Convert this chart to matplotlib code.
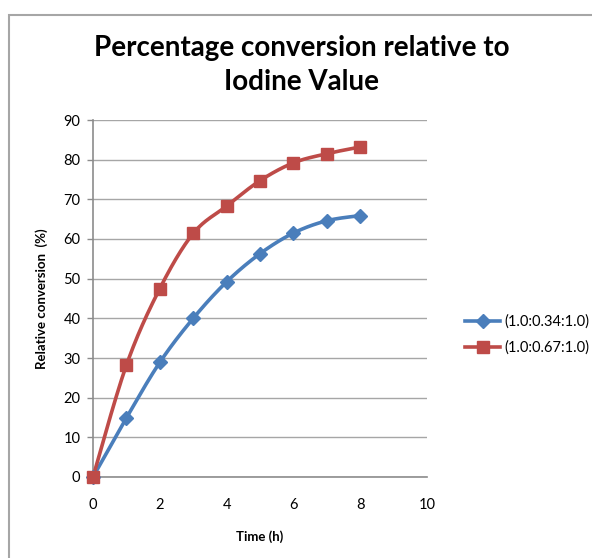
"""Percentage conversion relative to iodine value, two molar ratios."""

import matplotlib.pyplot as plt
import numpy as np
from matplotlib.lines import Line2D
from matplotlib.patches import Rectangle

plt.rcParams["font.family"] = ["Lato", "DejaVu Sans"]

# ── Data ─────────────────────────────────────────────────────────────────────

time_h = [0, 1, 2, 3, 4, 5, 6, 7, 8]
conv_034 = [0, 14.9, 28.9, 40.0, 49.2, 56.3, 61.5, 64.6, 65.9]
conv_067 = [0, 28.2, 47.5, 61.4, 68.3, 74.7, 79.2, 81.5, 83.2]
series_labels = ["(1.0:0.34:1.0)", "(1.0:0.67:1.0)"]

BLUE = "#4A7EBB"
RED = "#BE4B48"
GRID = "#A6A6A6"

W, H = 592, 558


def smooth(x, y, n=30):
    """Catmull-Rom curve through the points (Excel-like smoothed line)."""
    x = np.asarray(x, float)
    y = np.asarray(y, float)
    px = np.concatenate([[x[0]], x, [x[-1]]])
    py = np.concatenate([[y[0]], y, [y[-1]]])
    xs, ys = [], []
    t = np.linspace(0, 1, n)
    for i in range(1, len(px) - 2):
        p0, p1, p2, p3 = (np.array([px[j], py[j]]) for j in range(i - 1, i + 3))
        c1 = p1 + (p2 - p0) / 6
        c2 = p2 - (p3 - p1) / 6
        b = ((1 - t) ** 3)[:, None] * p1 + (3 * (1 - t) ** 2 * t)[:, None] * c1 \
            + (3 * (1 - t) * t ** 2)[:, None] * c2 + (t ** 3)[:, None] * p2
        xs.extend(b[:, 0])
        ys.extend(b[:, 1])
    return xs, ys


fig = plt.figure(figsize=(W / 100, H / 100), dpi=100)

# outer chart border
fig.patches.append(Rectangle((9 / W, -0.1), 1.1, (H - 15) / H + 0.1,
                             transform=fig.transFigure, fill=False,
                             edgecolor="#A6A6A6", linewidth=1.5))

ax = fig.add_axes([93 / W, (H - 477) / H, 334 / W, 357 / H])

for yy, col, mk, ms in [(conv_034, BLUE, "D", 7), (conv_067, RED, "s", 8.5)]:
    sx, sy = smooth(time_h, yy)
    ax.plot(sx, sy, color=col, linewidth=2.6, zorder=3, clip_on=False)
    ax.plot(time_h, yy, linestyle="none", marker=mk, markersize=ms,
            color=col, markeredgecolor=col, zorder=4, clip_on=False)

ax.set_xlim(0, 10)
ax.set_ylim(0, 90)
ax.set_xticks(range(0, 11, 2))
ax.set_yticks(range(0, 91, 10))
ax.grid(axis="y", color=GRID, linewidth=1.0)
ax.set_axisbelow(True)
for s in ["top", "right"]:
    ax.spines[s].set_visible(False)
for s in ["left", "bottom"]:
    ax.spines[s].set_color("#8C8C8C")
    ax.spines[s].set_linewidth(1.2)
ax.tick_params(axis="y", length=4, width=1, color="#8C8C8C", labelsize=10.5, pad=5)
ax.tick_params(axis="x", length=0, labelsize=10.5, pad=15)

ax.set_xlabel("Time (h)", fontsize=9.5, fontweight="bold", labelpad=13)
ax.set_ylabel("Relative conversion  (%)", fontsize=9.5, fontweight="bold", labelpad=11)

fig.text(302 / W, 1 - 65 / H, "Percentage conversion relative to\nIodine Value",
         ha="center", va="center", fontsize=20, fontweight="bold",
         linespacing=1.4)

handles = [
    Line2D([0], [0], color=BLUE, linewidth=2.6, marker="D", markersize=7),
    Line2D([0], [0], color=RED, linewidth=2.6, marker="s", markersize=8.5),
]
fig.legend(handles, series_labels, loc="center left",
           bbox_to_anchor=(452 / W, 1 - 335 / H), frameon=False, fontsize=10.5,
           handlelength=2.4, handletextpad=0.3, labelspacing=0.8)

fig.savefig("out.png", dpi=100, facecolor="white")
